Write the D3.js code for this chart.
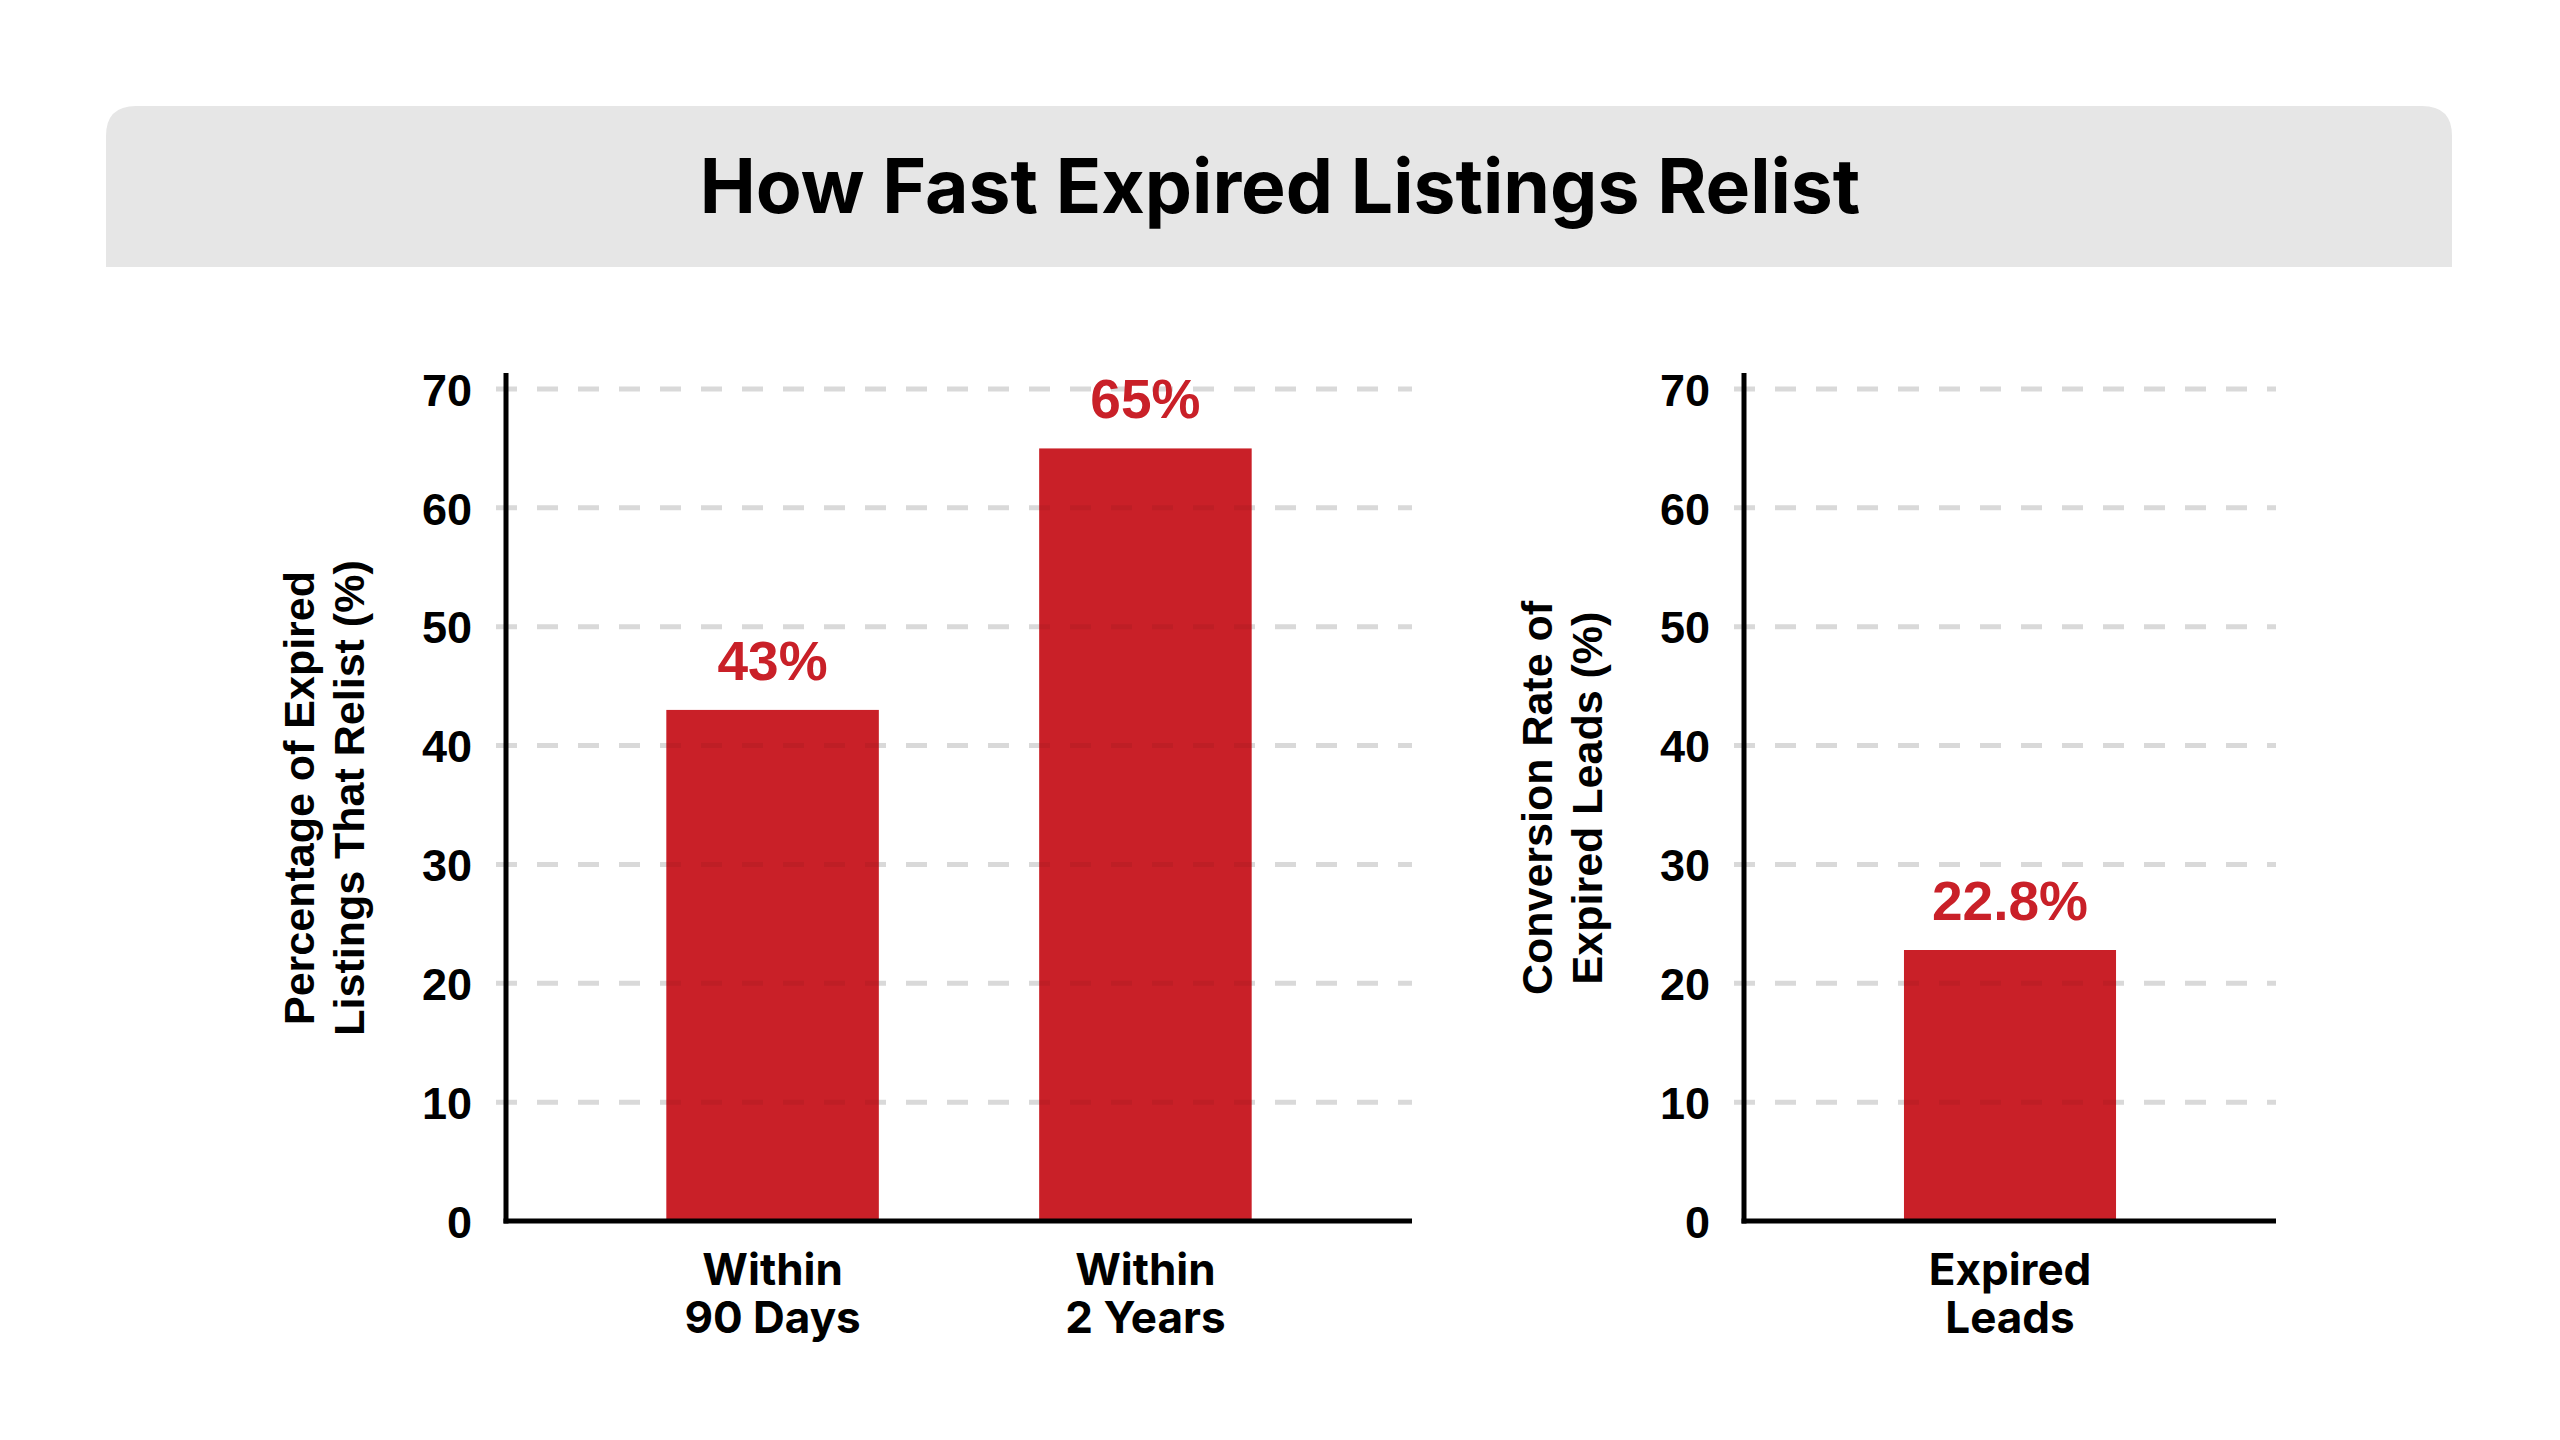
<!DOCTYPE html>
<meta charset="utf-8">
<style>
body { margin: 0; background: #fff; }
.tick text { font-family: "Liberation Sans", Arial, sans-serif; font-weight: bold; font-size: 45px; fill: #000; }
</style>
<body>
    <svg width="2560" height="1440"></svg>
</body>
<script src="https://d3js.org/d3.v7.min.js"></script>
<script>
const chartTitle = "How Fast Expired Listings Relist";

const yTicks = [0, 10, 20, 30, 40, 50, 60, 70];

const relistCategories = ["Within\n90 Days", "Within\n2 Years"];
const relistValues = [43, 65];
const relistLabels = ["43%", "65%"];
const relistAxisTitle = ["Percentage of Expired", "Listings That Relist (%)"];

const conversionCategories = ["Expired\nLeads"];
const conversionValues = [22.8];
const conversionLabels = ["22.8%"];
const conversionAxisTitle = ["Conversion Rate of", "Expired Leads (%)"];

const svg = d3.select("svg");
const red = "#c92028";

// title band, only top corners rounded
const bx = 106, by = 106, bw = 2346, bh = 161, br = 30;
svg.append("path")
    .attr("d", `M${bx},${by + bh} V${by + br} Q${bx},${by} ${bx + br},${by} H${bx + bw - br} Q${bx + bw},${by} ${bx + bw},${by + br} V${by + bh} Z`)
    .attr("fill", "#e6e6e6");

svg.append("text")
    .attr("x", 1280)
    .attr("y", 213)
    .attr("text-anchor", "middle")
    .style("font-family", "Inter, sans-serif")
    .style("font-weight", 700)
    .style("font-size", "75px")
    .text(chartTitle);

const y = d3.scaleLinear().domain([0, 70]).range([1221, 389]);

drawPanel(506, 1412, relistCategories, relistValues, relistLabels, relistAxisTitle);
drawPanel(1744, 2276, conversionCategories, conversionValues, conversionLabels, conversionAxisTitle);

function drawGrid(g, x0, x1, color) {
    g.append("g").selectAll("line")
        .data(yTicks.filter(d => d > 0))
        .enter().append("line")
        .attr("x1", x0 - 10)
        .attr("x2", x1)
        .attr("y1", d => y(d))
        .attr("y2", d => y(d))
        .attr("stroke", color)
        .attr("stroke-width", 5)
        .attr("stroke-dasharray", "21,20");
}

function drawPanel(x0, x1, cats, values, labels, axisTitle) {
    const x = d3.scaleBand().domain(cats).range([x0, x1]).paddingInner(0.43).paddingOuter(0.43);
    const g = svg.append("g");

    // dashed grid behind the bars
    drawGrid(g, x0, x1, "#e5e5e5");

    // bars
    g.selectAll(".bar")
        .data(values)
        .enter().append("rect")
        .attr("x", (d, i) => x(cats[i]))
        .attr("y", d => y(d))
        .attr("width", x.bandwidth())
        .attr("height", d => y(0) - y(d))
        .attr("fill", red);

    // faint grid showing through the bars
    drawGrid(g, x0, x1, "rgba(0,0,0,0.05)");

    // value labels
    g.selectAll(".val")
        .data(values)
        .enter().append("text")
        .attr("x", (d, i) => x(cats[i]) + x.bandwidth() / 2)
        .attr("y", d => y(d) - 30)
        .attr("text-anchor", "middle")
        .attr("fill", red)
        .style("font-family", "Liberation Sans, Arial, sans-serif")
        .style("font-weight", "bold")
        .style("font-size", "55px")
        .text((d, i) => labels[i]);

    // y axis
    const yAxis = g.append("g")
        .attr("transform", `translate(${x0},0)`)
        .call(d3.axisLeft(y).tickValues(yTicks).tickSize(0).tickPadding(34));
    yAxis.select(".domain").remove();
    yAxis.selectAll(".tick text").attr("dy", "0.36em");

    g.append("line")
        .attr("x1", x0).attr("x2", x0)
        .attr("y1", y(0) + 2.5).attr("y2", y(70) - 16)
        .attr("stroke", "#000").attr("stroke-width", 5);

    // x axis
    const xAxis = g.append("g")
        .attr("transform", `translate(0,${y(0)})`)
        .call(d3.axisBottom(x).tickSize(0).tickFormat(""));
    xAxis.select(".domain")
        .attr("d", `M${x0 - 2.5},0H${x1}`)
        .attr("stroke", "#000").attr("stroke-width", 5);

    xAxis.selectAll(".tick").each(function (d) {
        const t = d3.select(this).append("text")
            .attr("text-anchor", "middle")
            .attr("fill", "#000")
            .style("font-family", "Inter, sans-serif")
            .style("font-weight", 700)
            .style("font-size", "44px");
        d.split("\n").forEach((line, i) => {
            t.append("tspan").attr("x", 0).attr("y", 64 + i * 48).text(line);
        });
    });

    // rotated axis title
    const at = g.append("text")
        .attr("transform", `translate(${x0 - 192},798) rotate(-90)`)
        .attr("text-anchor", "middle")
        .attr("fill", "#000")
        .style("font-family", "Liberation Sans, Arial, sans-serif")
        .style("font-weight", "bold")
        .style("font-size", "43px");
    axisTitle.forEach((line, i) => {
        at.append("tspan").attr("x", 0).attr("y", i * 50).text(line);
    });
}
</script>
